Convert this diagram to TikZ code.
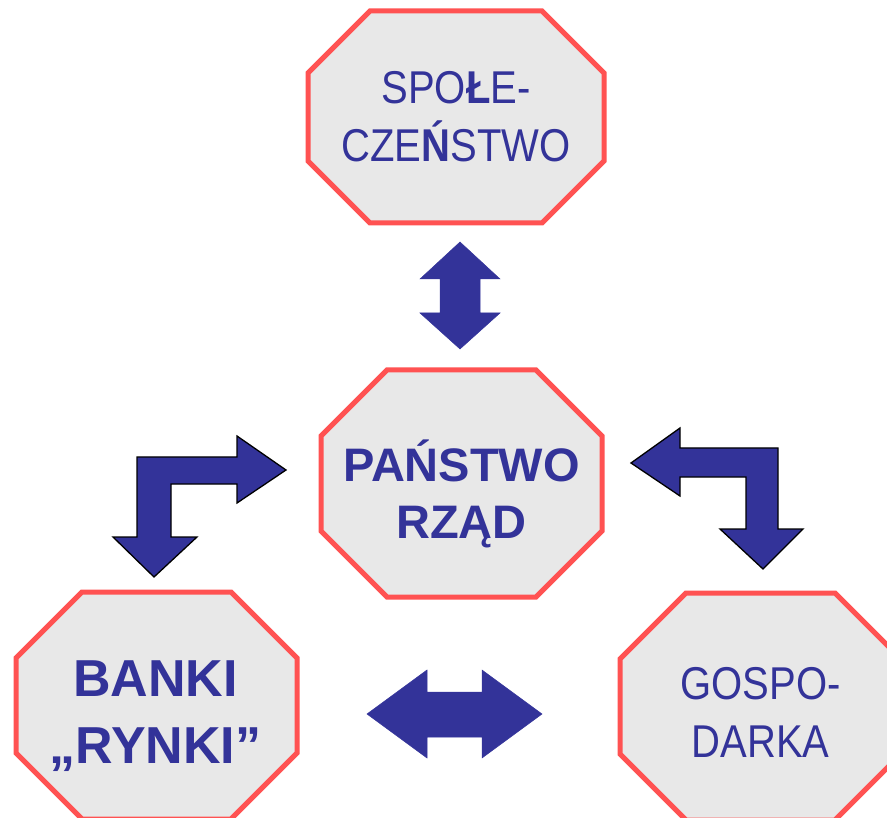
\documentclass[tikz,border=0pt]{standalone}
\usepackage{fontspec}
\setmainfont{Liberation Sans}
\newfontfamily\narrowsans[FakeStretch=0.87]{Liberation Sans}
\usetikzlibrary{calc}

\definecolor{boxred}{HTML}{FF5252}
\definecolor{boxgray}{HTML}{E8E8E8}
\definecolor{navy}{HTML}{333399}

% octagon round a centre: #1 centre, #2 half width, #3 half height, #4 cut
\newcommand{\octagon}[4]{%
  \filldraw[octa] ($(#1)+(-#2+#4,-#3)$) -- ($(#1)+(#2-#4,-#3)$) -- ($(#1)+(#2,-#3+#4)$) -- ($(#1)+(#2,#3-#4)$)
    -- ($(#1)+(#2-#4,#3)$) -- ($(#1)+(-#2+#4,#3)$) -- ($(#1)+(-#2,#3-#4)$) -- ($(#1)+(-#2,-#3+#4)$) -- cycle;}

\begin{document}
\begin{tikzpicture}[x=1pt, y=-1pt]
	\tikzset{octa/.style={draw=boxred, fill=boxgray, line width=5pt, line join=miter},
		boxtext/.style={align=center, inner sep=0pt, text=navy},
		blockarrow/.style={fill=navy, draw=navy, line width=0.5pt, line join=miter},
		bentarrow/.style={fill=navy, draw=black, line width=1.3pt, line join=miter}}
	\useasboundingbox (0,0) rectangle (887,818);
	
	\coordinate (spo) at (456,117);
	\coordinate (pan) at (461.5,483.5);
	\coordinate (ban) at (156.5,705.5);
	\coordinate (gos) at (760.5,706.5);
	
	\octagon{spo}{148}{106}{62}
	\octagon{pan}{140.5}{113.5}{66}
	\octagon{ban}{140.5}{113.5}{66}
	\octagon{gos}{140.5}{113.5}{66}
	
	\node [boxtext, font=\narrowsans\fontsize{46}{58}\selectfont] (spoleczenstwo) at (spo) {SPO\textbf{Ł}E-\\CZE\textbf{Ń}STWO};
	\node [boxtext, font=\bfseries\fontsize{47}{57}\selectfont] (panstwo) at ($(pan)+(0,10)$) {PAŃSTWO\\RZĄD};
	\node [boxtext, font=\bfseries\fontsize{52}{67}\selectfont] (banki) at ($(ban)+(-1,11)$) {BANKI\\„RYNKI”};
	\node [boxtext, font=\narrowsans\fontsize{46}{58}\selectfont] (gospodarka) at ($(gos)+(0,6)$) {GOSPO-\\DARKA};
	
	% double arrows
	\filldraw [blockarrow] (460,242) -- (500,279) -- (480,279) -- (480,313) -- (500,313) -- (460,349)
		-- (420,313) -- (440,313) -- (440,279) -- (420,279) -- cycle;
	\filldraw [blockarrow] (367,714) -- (427,670) -- (427,692) -- (482,692) -- (482,670) -- (542,714)
		-- (482,758) -- (482,737) -- (427,737) -- (427,758) -- cycle;
	
	% bent arrows
	\filldraw [bentarrow] (286,470) -- (237,436) -- (237,457) -- (137,457) -- (137,537) -- (113,537) -- (154,577)
		-- (197,537) -- (171,537) -- (171,484) -- (237,484) -- (237,503) -- cycle;
	\filldraw [bentarrow] (631,463) -- (680,428) -- (680,448) -- (778,448) -- (778,529) -- (803,529) -- (763,569)
		-- (720,529) -- (746,529) -- (746,477) -- (680,477) -- (680,496) -- cycle;
\end{tikzpicture}
\end{document}
